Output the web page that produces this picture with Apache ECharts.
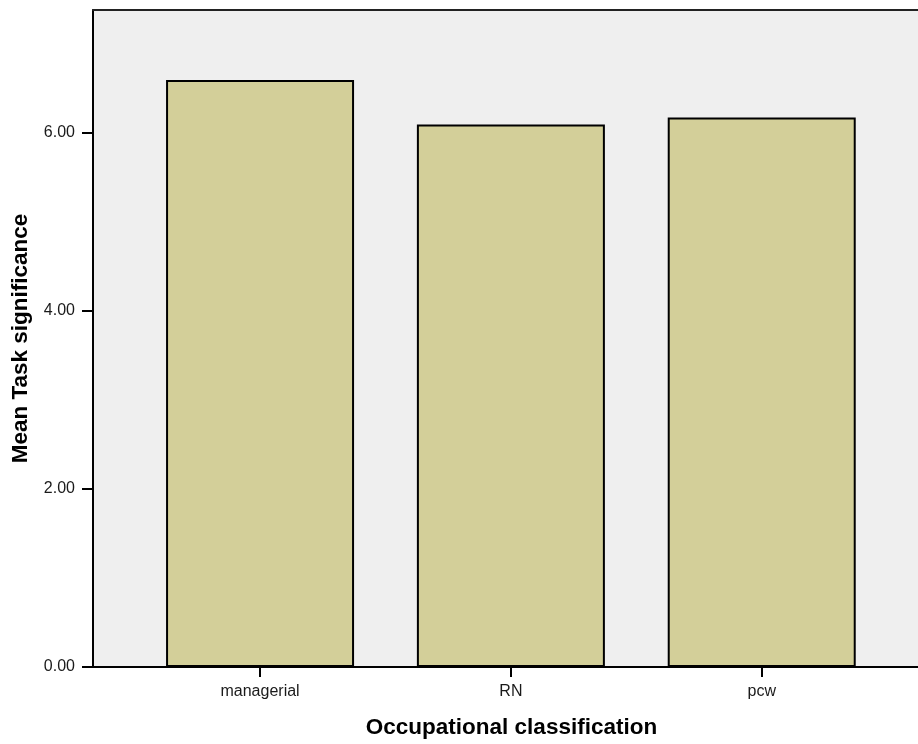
<!DOCTYPE html>
<html>
<head>
<meta charset="utf-8">
<script src="https://cdn.jsdelivr.net/npm/echarts@6/dist/echarts.min.js"></script>
<style>
  html, body { margin: 0; padding: 0; background: #ffffff; }
  #chart { width: 918px; height: 744px; }
</style>
</head>
<body>
<div id="chart"></div>
<script>
// Mean task significance by occupational group
const categories = ['managerial', 'RN', 'pcw'];
const meanValues = [6.59, 6.09, 6.17];
const yTickValues = [0, 2, 4, 6];

// Categories sit at positions 1, 2, 3 on a numeric x axis
const positions = categories.map((_, i) => i + 1);
const barData = positions.map((p, i) => [p, meanValues[i]]);

const chart = echarts.init(document.getElementById('chart'), null, { renderer: 'canvas' });
const font = 'Arial, "Liberation Sans", Helvetica, sans-serif';

chart.setOption({
  animation: false,
  backgroundColor: '#ffffff',
  grid: {
    left: 93, right: 0, top: 10, bottom: 76,
    show: true, backgroundColor: '#efefef', borderWidth: 0
  },
  xAxis: [{
    type: 'value',
    min: 0.334, max: 3.623,
    position: 'bottom',
    name: 'Occupational classification',
    nameLocation: 'middle',
    nameGap: 49,
    nameTextStyle: { fontFamily: font, fontSize: 22.5, fontWeight: 'bold', color: '#000', padding: [0, 0, 0, 12] },
    axisLine: { show: true, onZero: false, lineStyle: { color: '#000', width: 2 } },
    axisTick: { show: true, customValues: positions, length: 10, lineStyle: { color: '#000', width: 2 } },
    axisLabel: {
      customValues: positions, margin: 17,
      fontFamily: font, fontSize: 16, color: '#1a1a1a',
      formatter: v => categories[Math.round(v) - 1] || ''
    },
    splitLine: { show: false }
  }, {
    type: 'value',
    min: 0.334, max: 3.623,
    position: 'top',
    axisLine: { show: true, onZero: false, lineStyle: { color: '#222', width: 2 } },
    axisTick: { show: false },
    axisLabel: { show: false },
    splitLine: { show: false }
  }],
  yAxis: {
    type: 'value',
    min: 0, max: 7.376,
    name: 'Mean Task significance',
    nameLocation: 'middle',
    nameGap: 61,
    nameTextStyle: { fontFamily: font, fontSize: 22.5, fontWeight: 'bold', color: '#000' },
    axisLine: { show: true, onZero: false, lineStyle: { color: '#000', width: 2 } },
    axisTick: { show: true, customValues: yTickValues, length: 11, lineStyle: { color: '#000', width: 2 } },
    axisLabel: {
      customValues: yTickValues, margin: 18,
      fontFamily: font, fontSize: 16, color: '#1a1a1a',
      formatter: v => v.toFixed(2)
    },
    splitLine: { show: false }
  },
  series: [{
    type: 'bar',
    xAxisIndex: 0,
    data: barData,
    barWidth: 188,
    itemStyle: { color: '#d3cf99', borderColor: '#000', borderWidth: 2 },
    emphasis: { disabled: true }
  }]
});
</script>
</body>
</html>
